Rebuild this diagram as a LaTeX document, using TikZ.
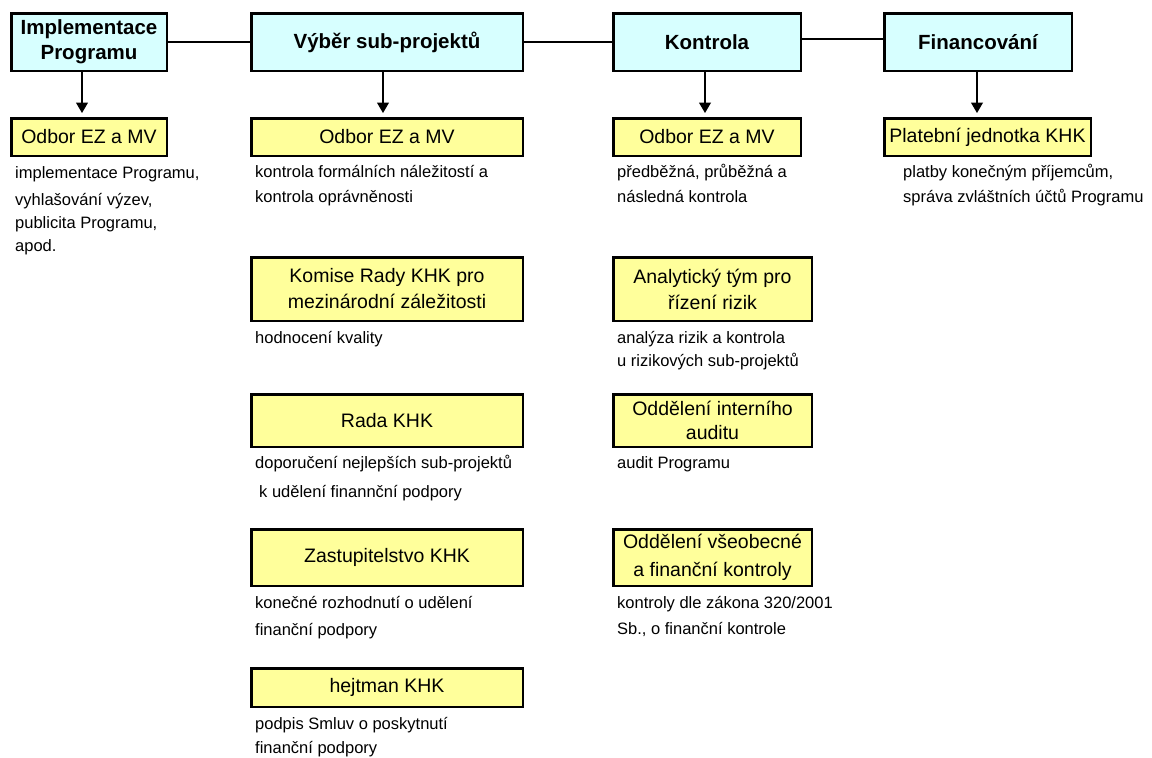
\documentclass[tikz,border=0pt]{standalone}
\usepackage{fontspec}
\setmainfont{Liberation Sans}
\usetikzlibrary{arrows.meta}
\definecolor{hdrcyan}{RGB}{215,255,255}
\definecolor{boxyellow}{RGB}{255,255,155}
\tikzset{
  hdr/.style={draw=black, line width=2.5pt, fill=hdrcyan, inner sep=0pt, align=center,
    font=\fontsize{20.5}{25}\selectfont\bfseries},
  ybox/.style={draw=black, line width=2.5pt, fill=boxyellow, inner sep=0pt, align=center,
    font=\fontsize{19.5}{26}\selectfont},
  desc/.style={anchor=base west, inner sep=0pt, font=\fontsize{16.5}{20}\selectfont},
  link/.style={draw=black, line width=1.1pt},
  arr/.style={draw=black, line width=1.1pt, -{Triangle[width=12pt,length=10.5pt]}, shorten >=4pt}
}
\begin{document}
\begin{tikzpicture}[x=1pt,y=-1pt]
\useasboundingbox[fill=white] (0,0) rectangle (1152,758);

% header boxes
\node[hdr, minimum width=155.5pt, minimum height=57.5pt] (I) at (89,42) {Implementace\\Programu};
\node[hdr, minimum width=271.5pt, minimum height=57.5pt] (V) at (387,42) {Výběr sub-projektů};
\node[hdr, minimum width=187.5pt, minimum height=57.5pt] (K) at (707,42) {Kontrola};
\node[hdr, minimum width=187.5pt, minimum height=57.5pt] (F) at (978,42) {Financování};

% links between headers
\draw[link] (I.east) -- (V.west);
\draw[link] (V.east) -- (K.west);
\draw[link] (K.east |- 0,39) -- (F.west |- 0,39);

% first-level yellow boxes
\node[ybox, minimum width=155.5pt, minimum height=37.5pt] (Y1) at (89,137) {Odbor EZ a MV};
\node[ybox, minimum width=271.5pt, minimum height=37.5pt] (Y2) at (387,137) {Odbor EZ a MV};
\node[ybox, minimum width=187.5pt, minimum height=37.5pt] (Y3) at (707,137) {Odbor EZ a MV};
\node[ybox, minimum width=206.5pt, minimum height=37.5pt] (Y4) at (987.5,137) {Platební jednotka KHK};

% arrows
\draw[arr] (I.south -| 82,0) -- (Y1.north -| 82,0);
\draw[arr] (V.south -| 383,0) -- (Y2.north -| 383,0);
\draw[arr] (K.south -| 705,0) -- (Y3.north -| 705,0);
\draw[arr] (F.south -| 977,0) -- (Y4.north -| 977,0);

% column 2 boxes
\node[ybox, minimum width=271.5pt, minimum height=63.5pt] (KR) at (387,289) {Komise Rady KHK pro\\mezinárodní záležitosti};
\node[ybox, minimum width=271.5pt, minimum height=52.5pt] (RK) at (387,420.5) {Rada KHK};
\node[ybox, minimum width=271.5pt, minimum height=56.5pt] (ZK) at (387,557.5) {Zastupitelstvo KHK};
\node[ybox, minimum width=271.5pt, minimum height=38.5pt] (HK) at (387,687.5) {hejtman KHK};

% column 3 boxes
\node[ybox, minimum width=198.5pt, minimum height=63.5pt] (AT) at (712.5,289) {Analytický tým pro\\řízení rizik};
\node[ybox, minimum width=198.5pt, minimum height=52.5pt, font=\fontsize{19.5}{24.5}\selectfont] (IA) at (712.5,420.5) {Oddělení interního\\auditu};
\node[ybox, minimum width=198.5pt, minimum height=56.5pt, font=\fontsize{19.5}{28}\selectfont] (VK) at (712.5,557.5) {Oddělení všeobecné\\a finanční kontroly};

% descriptions column 1
\node[desc] (d1a) at (15,178) {implementace Programu,};
\node[desc] (d1b) at (15,205) {vyhlašování výzev,};
\node[desc] (d1c) at (15,228) {publicita Programu,};
\node[desc] (d1d) at (15,251) {apod.};

% descriptions column 2
\node[desc] (d2a) at (255,177) {kontrola formálních náležitostí a};
\node[desc] (d2b) at (255,202) {kontrola oprávněnosti};
\node[desc] (d2c) at (255,343) {hodnocení kvality};
\node[desc] (d2d) at (255,468) {doporučení nejlepších sub-projektů};
\node[desc] (d2e) at (259,497) {k udělení finannční podpory};
\node[desc] (d2f) at (255,608) {konečné rozhodnutí o udělení};
\node[desc] (d2g) at (255,635) {finanční podpory};
\node[desc] (d2h) at (255,729) {podpis Smluv o poskytnutí};
\node[desc] (d2i) at (255,753.5) {finanční podpory};

% descriptions column 3
\node[desc] (d3a) at (617,177) {předběžná, průběžná a};
\node[desc] (d3b) at (617,202) {následná kontrola};
\node[desc] (d3c) at (617,343) {analýza rizik a kontrola};
\node[desc] (d3d) at (617,366) {u rizikových sub-projektů};
\node[desc] (d3e) at (617,468) {audit Programu};
\node[desc] (d3f) at (617,608) {kontroly dle zákona 320/2001};
\node[desc] (d3g) at (617,634) {Sb., o finanční kontrole};

% descriptions column 4
\node[desc] (d4a) at (903,177) {platby konečným příjemcům,};
\node[desc] (d4b) at (903,202) {správa zvláštních účtů Programu};
\end{tikzpicture}
\end{document}
